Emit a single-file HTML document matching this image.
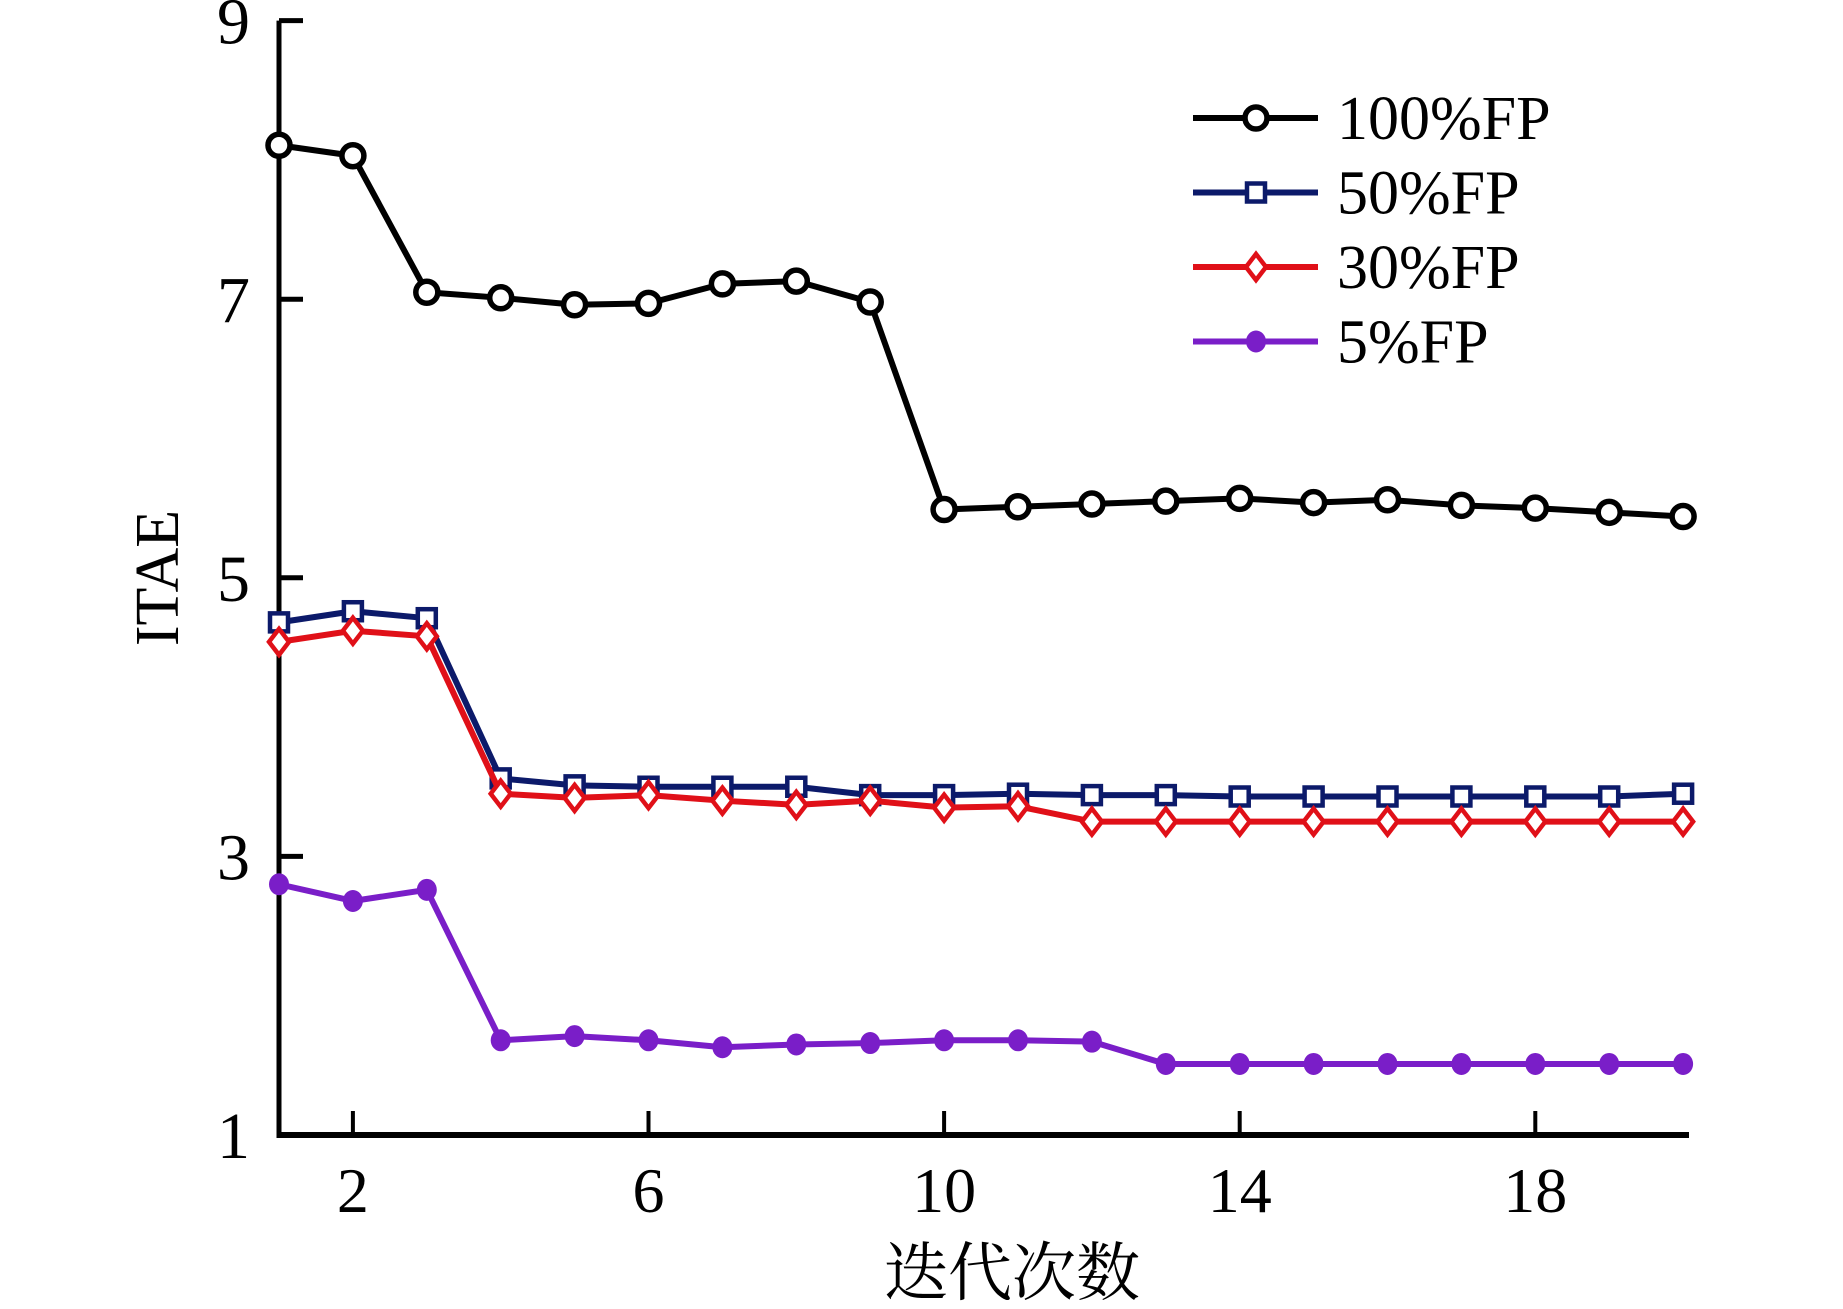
<!DOCTYPE html>
<html><head><meta charset="utf-8"><style>
html,body{margin:0;padding:0;background:#fff}
svg{display:block}
text{font-family:"Liberation Serif","Noto Serif CJK SC",serif;fill:#000}
</style></head><body>
<svg id="chart" width="1843" height="1309" viewBox="0 0 1843 1309" xmlns="http://www.w3.org/2000/svg"></svg>
<script>
const iterations=[1,2,3,4,5,6,7,8,9,10,11,12,13,14,15,16,17,18,19,20];
const xTicks=[2,6,10,14,18];
const yTicks=[1,3,5,7,9];
const s100=[8.105,8.03,7.05,7.01,6.96,6.97,7.11,7.13,6.98,5.49,5.51,5.53,5.55,5.57,5.54,5.56,5.52,5.50,5.47,5.44];
const s50=[4.68,4.76,4.71,3.56,3.51,3.50,3.50,3.50,3.44,3.44,3.45,3.44,3.44,3.43,3.43,3.43,3.43,3.43,3.43,3.45];
const s30=[4.54,4.62,4.58,3.45,3.42,3.44,3.40,3.37,3.40,3.35,3.36,3.25,3.25,3.25,3.25,3.25,3.25,3.25,3.25,3.25];
const s5=[2.80,2.68,2.76,1.68,1.71,1.68,1.63,1.65,1.66,1.68,1.68,1.67,1.51,1.51,1.51,1.51,1.51,1.51,1.51,1.51];
const seriesNames=["100%FP","50%FP","30%FP","5%FP"];

const NS="http://www.w3.org/2000/svg";
const svg=document.getElementById('chart');
const X0=279,XU=73.9,Y1=1135,YU=139.3,XEND=1689;
const xs=v=>X0+(v-1)*XU;
const ys=v=>Y1-(v-1)*YU;
function mk(tag,attrs,parent){const e=document.createElementNS(NS,tag);for(const k in attrs)e.setAttribute(k,attrs[k]);(parent||svg).appendChild(e);return e;}

const axes=mk('g',{});


const ya=mk('line',{x1:X0,y1:ys(9),x2:X0,y2:Y1+3,stroke:'#000','stroke-width':5},axes);


const xa=mk('line',{x1:X0-2,y1:Y1,x2:XEND,y2:Y1,stroke:'#000','stroke-width':6},axes);


yTicks.forEach(t=>{
  const l=mk('line',{x1:X0,y1:ys(t),x2:X0+24,y2:ys(t),stroke:'#000','stroke-width':5},axes);
  
  
  const tx=mk('text',{x:250,y:ys(t)+23,'text-anchor':'end','font-size':66},axes);
  tx.textContent=t;
  
  
});
xTicks.forEach(t=>{
  const l=mk('line',{x1:xs(t),y1:Y1,x2:xs(t),y2:Y1-24,stroke:'#000','stroke-width':4},axes);
  
  
  const tx=mk('text',{x:xs(t),y:1212,'text-anchor':'middle','font-size':64},axes);
  tx.textContent=t;
  
  
});
const yt=mk('text',{x:0,y:0,'text-anchor':'middle','font-size':62,transform:'translate(178,578) rotate(-90)'});
yt.textContent='ITAE';


const xt=mk('text',{x:1012,y:1295,'text-anchor':'middle','font-size':64});
xt.textContent='迭代次数';



const cfg=[
 {data:s100,color:'#000000',m:'circle'},
 {data:s50,color:'#0c1a6a',m:'square'},
 {data:s30,color:'#e01018',m:'diamond'},
 {data:s5,color:'#7a1ec8',m:'dot'}
];
function marker(g,type,x,y,c){
  let e;
  if(type==='circle'){e=mk('circle',{cx:x,cy:y,r:11,fill:'#fff',stroke:c,'stroke-width':5.5},g);}
  else if(type==='square'){e=mk('rect',{x:x-9,y:y-9,width:18,height:18,fill:'#fff',stroke:c,'stroke-width':4.5},g);}
  else if(type==='diamond'){e=mk('polygon',{points:`${x},${y-13} ${x+10},${y} ${x},${y+13} ${x-10},${y}`,fill:'#fff',stroke:c,'stroke-width':4.5},g);}
  else {e=mk('ellipse',{cx:x,cy:y,rx:10,ry:11,fill:c},g);}
  
  
}
cfg.forEach((s,i)=>{
  const g=mk('g',{});
  
  
  const pts=s.data.map((v,j)=>xs(iterations[j])+','+ys(v)).join(' ');
  const pl=mk('polyline',{points:pts,fill:'none',stroke:s.color,'stroke-width':6,'stroke-linejoin':'round'},g);
  
  
  s.data.forEach((v,j)=>marker(g,s.m,xs(iterations[j]),ys(v),s.color));
  const ly=118+i*74.5;
  const lg=mk('g',{});
  
  
  mk('line',{x1:1193,y1:ly,x2:1318,y2:ly,stroke:s.color,'stroke-width':6},lg);
  marker(lg,s.m,1256,ly,s.color);
  const t=mk('text',{x:1337,y:ly+21,'font-size':62},lg);
  t.textContent=seriesNames[i];
  
  
});
</script>
</body></html>
